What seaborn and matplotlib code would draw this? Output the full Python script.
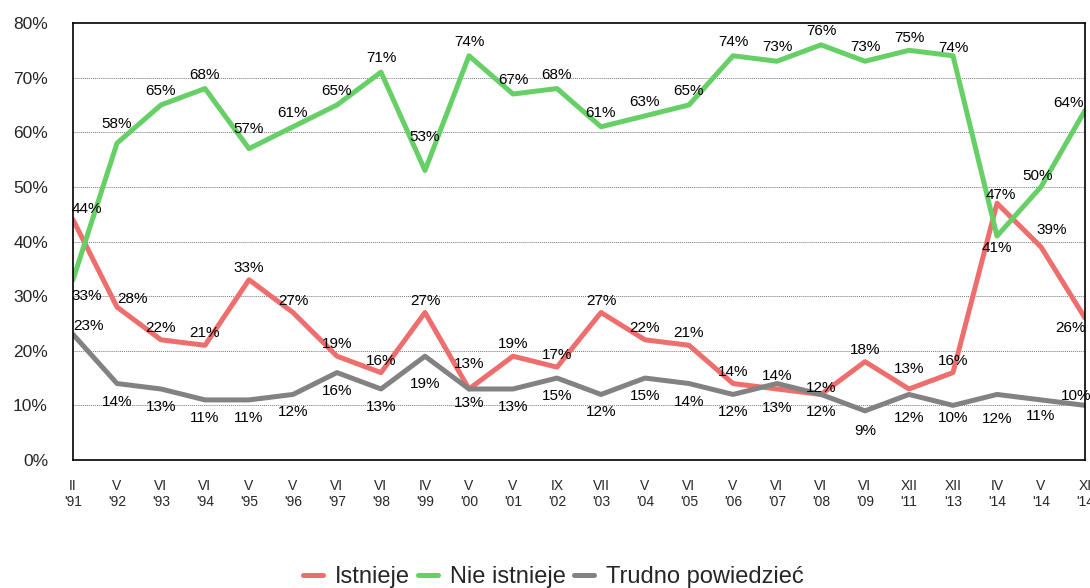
import matplotlib
matplotlib.use("Agg")
import matplotlib.pyplot as plt
import seaborn as sns
import pandas as pd
import numpy as np

categories = ["II\n'91", "V\n'92", "VI\n'93", "VI\n'94", "V\n'95", "V\n'96", "VI\n'97", "VI\n'98",
              "IV\n'99", "V\n'00", "V\n'01", "IX\n'02", "VII\n'03", "V\n'04", "VI\n'05", "V\n'06",
              "VI\n'07", "VI\n'08", "VI\n'09", "XII\n'11", "XII\n'13", "IV\n'14", "V\n'14", "XI\n'14"]
istnieje = [44, 28, 22, 21, 33, 27, 19, 16, 27, 13, 19, 17, 27, 22, 21, 14, 13, 12, 18, 13, 16, 47, 39, 26]
nie_istnieje = [33, 58, 65, 68, 57, 61, 65, 71, 53, 74, 67, 68, 61, 63, 65, 74, 73, 76, 73, 75, 74, 41, 50, 64]
trudno = [23, 14, 13, 11, 11, 12, 16, 13, 19, 13, 13, 15, 12, 15, 14, 12, 14, 12, 9, 12, 10, 12, 11, 10]
series_names = ["Istnieje", "Nie istnieje", "Trudno powiedzieć"]
y_ticks = [0, 10, 20, 30, 40, 50, 60, 70, 80]

colors = {"Istnieje": "#EE6E6E", "Nie istnieje": "#66CF66", "Trudno powiedzieć": "#828282"}

sns.set_theme(style="white")
plt.rcParams["font.family"] = ["Liberation Sans", "DejaVu Sans"]

n = len(categories)
idx = np.arange(n)
df = pd.concat([
    pd.DataFrame({"x": idx, "value": istnieje, "series": series_names[0]}),
    pd.DataFrame({"x": idx, "value": nie_istnieje, "series": series_names[1]}),
    pd.DataFrame({"x": idx, "value": trudno, "series": series_names[2]}),
])

fig = plt.figure(figsize=(10.9, 5.88), dpi=100)
ax = fig.add_axes([73/1090, 1 - 460/588, (1085 - 73)/1090, (460 - 23)/588])

sns.lineplot(data=df, x="x", y="value", hue="series", palette=colors, linewidth=3.6,
             ax=ax, legend=True, sort=False)

ax.set_xlim(0, n - 1)
ax.set_ylim(0, 80)
ax.set_yticks(y_ticks)
ax.set_yticklabels([f"{v}%" for v in y_ticks], fontsize=12.5)
ax.set_xticks(idx)
ax.set_xticklabels(categories, fontsize=10, linespacing=1.1)
ax.tick_params(axis="y", length=0, pad=18)
ax.tick_params(axis="x", length=0, pad=14)
ax.set_xlabel("")
ax.set_ylabel("")
for y in y_ticks[1:-1]:
    ax.axhline(y, color="#777777", linestyle=(0, (1, 1)), linewidth=0.7, zorder=0)
for s in ax.spines.values():
    s.set_visible(True)
    s.set_color("black")
    s.set_linewidth(1.2)

# label offsets in pixels (default: red above, green above, grey below)
red_off = {i: 12 for i in range(n)}
green_off = {i: 14 for i in range(n)}
grey_off = {i: -18 for i in range(n)}
red_dx = {i: 0 for i in range(n)}
green_dx = {i: 0 for i in range(n)}
grey_dx = {i: 0 for i in range(n)}
green_off[0] = -16; green_dx[0] = 14
red_off[0] = 11; red_dx[0] = 14
grey_off[0] = 8; grey_dx[0] = 15
red_off[1] = 8; red_dx[1] = 16
green_off[1] = 19
green_off[4] = 20
green_off[8] = 33
red_off[9] = 25; grey_off[9] = -14
grey_off[8] = -28
red_off[16] = -19; grey_off[16] = 8
red_off[17] = 6
red_off[19] = 20
green_off[19] = 12
green_off[20] = 8
green_off[21] = -12
red_off[21] = 8; red_dx[21] = 4
red_off[22] = 17; red_dx[22] = 11
green_off[22] = 11; green_dx[22] = -3
red_off[23] = -10; red_dx[23] = -15
green_off[23] = 7; green_dx[23] = -16
grey_off[23] = 9; grey_dx[23] = -9
grey_off[18] = -20
grey_off[19] = -24
grey_off[20] = -13
grey_off[21] = -25
grey_off[22] = -16

for vals, offs, dxs in [(istnieje, red_off, red_dx), (nie_istnieje, green_off, green_dx),
                        (trudno, grey_off, grey_dx)]:
    for i, v in enumerate(vals):
        ax.annotate(f"{v}%", (i, v), xytext=(dxs[i], offs[i]), textcoords="offset pixels",
                    ha="center", va="center", fontsize=11, color="black",
                    annotation_clip=False)

handles, labels = ax.get_legend_handles_labels()
ax.legend_.remove()
fig.legend(handles, labels, loc="center", bbox_to_anchor=(553/1090, 1 - 577/588),
           ncol=3, frameon=False, fontsize=17, handlelength=0.85, handletextpad=0.5,
           columnspacing=0.35, borderaxespad=0)

fig.savefig("out.png", dpi=100)
